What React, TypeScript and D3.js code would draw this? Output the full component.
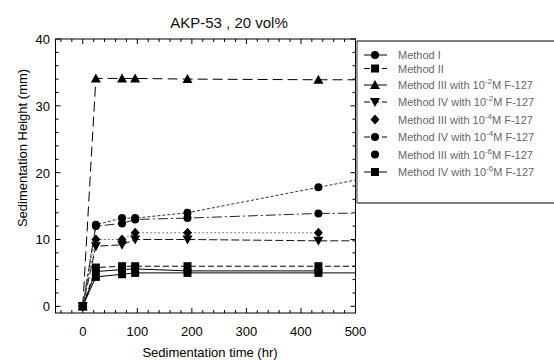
import React from "react";
import * as d3 from "d3";

const times = [0, 24, 72, 96, 192, 432, 600];

const seriesNames = [
  "Method I",
  "Method II",
  "Method III with 10|-2|M F-127",
  "Method IV with 10|-2|M F-127",
  "Method III with 10|-4|M F-127",
  "Method IV with 10|-4|M F-127",
  "Method III with 10|-6|M F-127",
  "Method IV with 10|-6|M F-127",
];

const methodI = [0, 5.2, 5.5, 5.6, 5.3, 5.3, null];
const methodII = [0, 5.8, 6.0, 6.0, 6.0, 6.0, 6.0];
const methodIII_2 = [0, 34.1, 34.1, 34.1, 34.0, 33.9, 33.9];
const methodIV_2 = [0, 9.0, 9.2, 10.0, 10.0, 9.8, 9.8];
const methodIII_4 = [0, 10.0, 10.0, 11.0, 11.0, 11.0, null];
const methodIV_4 = [0, 12.0, 12.4, 13.0, 13.2, 13.9, 14.0];
const methodIII_6 = [0, 12.2, 13.2, 13.2, 14.0, 17.8, 20.5];
const methodIV_6 = [0, 4.4, 4.8, 5.0, 5.0, 5.0, 5.0];

const seriesValues = [
  methodI, methodII, methodIII_2, methodIV_2,
  methodIII_4, methodIV_4, methodIII_6, methodIV_6,
];

const markers = ["circle", "square", "triangle", "triangleDown", "diamond", "circle", "circle", "square"];
const dashes = ["", "6,3", "10,5", "8,3", "2,2", "10,3,2,3", "3,2", ""];
const lineColors = ["#000", "#000", "#000", "#111", "#777", "#222", "#333", "#000"];
const legendDashes = ["", "6,3", "", "6,3", "", "6,3", "", ""];
const legendShowLine = [true, true, true, true, false, true, false, true];

const xTicks = [0, 100, 200, 300, 400, 500];
const yTicks = [0, 10, 20, 30, 40];

const W = 554;
const H = 360;

function Marker({ type, x, y }: { type: string; x: number; y: number }) {
  const s = 4;
  if (type === "circle") return <circle cx={x} cy={y} r={s} fill="#000" />;
  if (type === "square") return <rect x={x - s} y={y - s} width={2 * s} height={2 * s} fill="#000" />;
  if (type === "triangle")
    return <path d={`M${x},${y - 5}L${x + 5},${y + 4}L${x - 5},${y + 4}Z`} fill="#000" />;
  if (type === "triangleDown")
    return <path d={`M${x},${y + 5}L${x + 5},${y - 4}L${x - 5},${y - 4}Z`} fill="#000" />;
  if (type === "diamond")
    return <path d={`M${x},${y - 5}L${x + 4.5},${y}L${x},${y + 5}L${x - 4.5},${y}Z`} fill="#000" />;
  return null;
}

const font = "Liberation Sans, Arial, sans-serif";

function LegendLabel({ text, x, y }: { text: string; x: number; y: number }) {
  const parts = text.split("|");
  if (parts.length === 1) {
    return (
      <text x={x} y={y} fontSize={11} fill="#666" fontFamily={font}>
        {text}
      </text>
    );
  }
  return (
    <text x={x} y={y} fontSize={11} fill="#666" fontFamily={font}>
      {parts[0]}
      <tspan dy={-5} fontSize={8}>{parts[1]}</tspan>
      <tspan dy={5}>{parts[2]}</tspan>
    </text>
  );
}

export default function App() {
  const x = d3.scaleLinear().domain([-50, 500]).range([55.5, 355.5]);
  const y = d3.scaleLinear().domain([-1, 40]).range([313, 39]);
  const [x0, x1] = x.range();
  const [yb, yt] = y.range();

  const line = d3
    .line<[number, number | null]>()
    .defined((d) => d[1] !== null)
    .x((d) => x(d[0]))
    .y((d) => y(d[1] as number));

  const xMinor = d3.range(-40, 500, 20).filter((v) => v % 100 !== 0);
  const yMinor = d3.range(0, 40, 2).filter((v) => v % 10 !== 0);

  const legendY = [55, 68.5, 85, 102, 119.5, 137, 154.5, 172];

  return (
    <svg width={W} height={H} style={{ position: "absolute", left: 0, top: 0, background: "#fff" }}>
      <defs>
        <clipPath id="plotclip">
          <rect x={x0} y={yt} width={x1 - x0} height={yb - yt} />
        </clipPath>
      </defs>
      <rect x={0} y={0} width={W} height={H} fill="#fff" />

      {/* title */}
      <text x={229} y={28} textAnchor="middle" fontSize={15} fontFamily={font} fill="#111">
        AKP-53 , 20 vol%
      </text>

      {/* series lines */}
      <g clipPath="url(#plotclip)">
        {seriesValues.map((vals, i) => (
          <path
            key={"l" + i}
            d={line(times.map((t, j) => [t, vals[j]] as [number, number | null])) || ""}
            fill="none"
            stroke={lineColors[i]}
            strokeWidth={1}
            strokeDasharray={dashes[i]}
          />
        ))}
        {seriesValues.map((vals, i) =>
          times.map((t, j) =>
            vals[j] === null || t > 500 ? null : (
              <Marker key={`m${i}-${j}`} type={markers[i]} x={x(t)} y={y(vals[j] as number)} />
            )
          )
        )}
      </g>

      {/* frame */}
      <rect x={x0} y={yt} width={x1 - x0} height={yb - yt} fill="none" stroke="#000" strokeWidth={1} />

      {/* x ticks */}
      {xTicks.map((t) => (
        <g key={"xt" + t}>
          <line x1={x(t)} x2={x(t)} y1={yb} y2={yb - 5} stroke="#000" />
          <line x1={x(t)} x2={x(t)} y1={yt} y2={yt + 5} stroke="#000" />
          <text x={x(t)} y={336} textAnchor="middle" fontSize={13} fontFamily={font} fill="#000">
            {t}
          </text>
        </g>
      ))}
      {xMinor.map((t) => (
        <g key={"xm" + t}>
          <line x1={x(t)} x2={x(t)} y1={yb} y2={yb - 3} stroke="#000" />
          <line x1={x(t)} x2={x(t)} y1={yt} y2={yt + 3} stroke="#000" />
        </g>
      ))}

      {/* y ticks */}
      {yTicks.map((t) => (
        <g key={"yt" + t}>
          <line x1={x0} x2={x0 + 5} y1={y(t)} y2={y(t)} stroke="#000" />
          <line x1={x1} x2={x1 - 5} y1={y(t)} y2={y(t)} stroke="#000" />
          <text x={50} y={y(t) + 5} textAnchor="end" fontSize={13} fontFamily={font} fill="#000">
            {t}
          </text>
        </g>
      ))}
      {yMinor.map((t) => (
        <g key={"ym" + t}>
          <line x1={x0} x2={x0 + 3} y1={y(t)} y2={y(t)} stroke="#000" />
          <line x1={x1} x2={x1 - 3} y1={y(t)} y2={y(t)} stroke="#000" />
        </g>
      ))}

      {/* axis titles */}
      <text x={210} y={357} textAnchor="middle" fontSize={13} fontFamily={font} fill="#000">
        Sedimentation time (hr)
      </text>
      <text
        transform={`translate(27,148) rotate(-90)`}
        textAnchor="middle"
        fontSize={13}
        fontFamily={font}
        fill="#000"
      >
        Sedimentation Height (mm)
      </text>

      {/* legend */}
      <g>
        <line x1={357} x2={554} y1={41} y2={41} stroke="#000" strokeWidth={1.2} />
        <line x1={357} x2={554} y1={203} y2={203} stroke="#000" strokeWidth={1.2} />
        <line x1={357} x2={357} y1={41} y2={203} stroke="#000" strokeWidth={0.8} />
        {seriesNames.map((name, i) => (
          <g key={"lg" + i}>
            {legendShowLine[i] && (
              <line
                x1={364}
                x2={387}
                y1={legendY[i]}
                y2={legendY[i]}
                stroke="#000"
                strokeWidth={1}
                strokeDasharray={legendDashes[i]}
              />
            )}
            <Marker type={markers[i]} x={375} y={legendY[i]} />
            <LegendLabel text={name} x={398} y={legendY[i] + 4} />
          </g>
        ))}
      </g>
    </svg>
  );
}
